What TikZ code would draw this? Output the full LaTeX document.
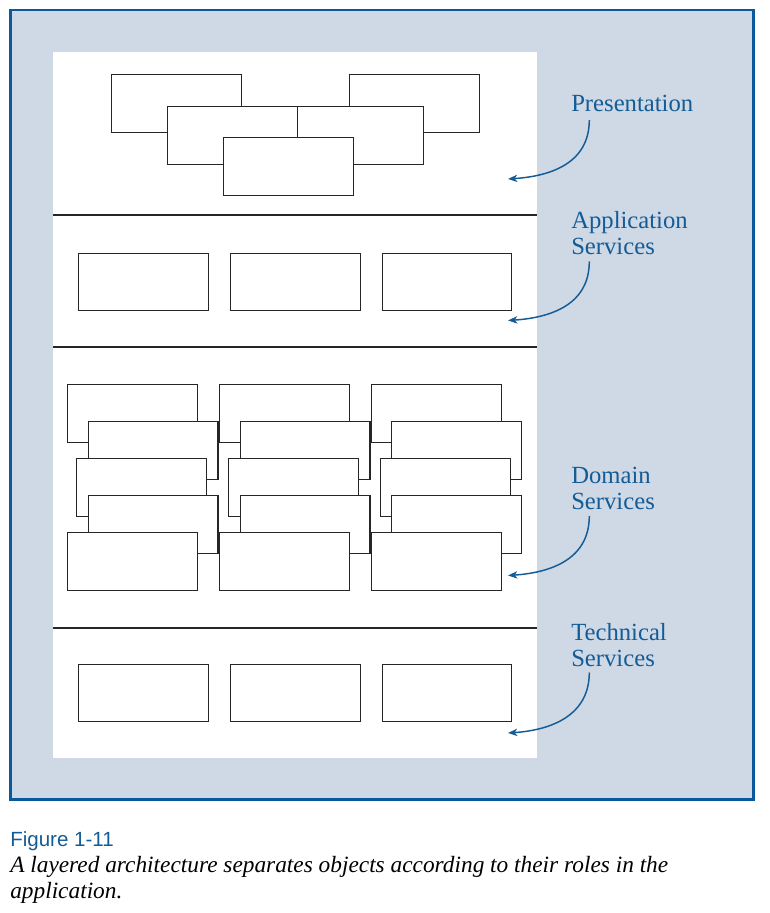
\documentclass[tikz,border=0pt]{standalone}
\usepackage{fontspec}
\setmainfont{Liberation Serif}
\newfontfamily\capsans{Liberation Sans}
\usetikzlibrary{arrows.meta,calc}
\definecolor{frameblue}{RGB}{10,90,155}
\definecolor{textblue}{RGB}{20,92,150}
\definecolor{panelbg}{RGB}{207,216,229}
\tikzset{
  objbox/.style={draw=black!85, line width=0.8pt, fill=white, minimum width=97.3pt, minimum height=43.2pt, inner sep=0pt, anchor=north west},
  sepline/.style={draw=black!85, line width=1.5pt},
  layerlabel/.style={text=textblue, font=\fontsize{18.5}{19.5}\selectfont, anchor=base west, align=left, inner sep=0pt},
  callout/.style={draw=textblue, line width=1.1pt, -{Stealth[length=7pt,width=5.5pt,inset=2pt]}},
}
\begin{document}
\begin{tikzpicture}[x=0.75pt,y=-0.75pt]
\useasboundingbox (0,0) rectangle (770,913);
% frame and panel
\draw[draw=frameblue, line width=1.6pt, fill=panelbg] (10.5,10) rectangle (753.5,799.5);
\fill[white] (53,52) rectangle (537,758);
% separators
\draw[sepline] (53,215) -- (537,215);
\draw[sepline] (53,347) -- (537,347);
\draw[sepline] (53,628) -- (537,628);
% presentation layer
\node[objbox] (pA) at (111,74) {};
\node[objbox] (pD) at (349,74) {};
\node[objbox] (pE) at (293,106) {};
\node[objbox] (pB) at (167,106) {};
\node[objbox] (pC) at (223,137) {};
% application services
\node[objbox] (a1) at (78,252.5) {};
\node[objbox] (a2) at (230,252.5) {};
\node[objbox] (a3) at (381.5,252.5) {};
% domain services
\foreach \c/\dx in {1/0,2/152,3/303.5}{
  \node[objbox] (d\c r1) at (67.3+\dx,384) {};
  \node[objbox] (d\c r2) at (87.7+\dx,421) {};
  \node[objbox] (d\c r3) at (76.3+\dx,458.3) {};
  \node[objbox] (d\c r4) at (87.7+\dx,495.3) {};
  \node[objbox] (d\c r5) at (67.3+\dx,532.3) {};
}
% technical services
\node[objbox] (t1) at (78,663.5) {};
\node[objbox] (t2) at (230,663.5) {};
\node[objbox] (t3) at (381.5,663.5) {};
% labels (base = baseline of last line)
\node[layerlabel] (lP) at (571,111.5) {Presentation};
\node[layerlabel] (lA) at (571,254.5) {Application\\Services};
\node[layerlabel] (lD) at (571,509) {Domain\\Services};
\node[layerlabel] (lT) at (571,666) {Technical\\Services};
% callout coordinates
\coordinate (sP) at (589.3,120);   \coordinate (eP) at (508,179);
\coordinate (sA) at (589.3,261.5); \coordinate (eA) at (508,320.5);
\coordinate (sD) at (589.3,516);   \coordinate (eD) at (508,575.5);
\coordinate (sT) at (589.3,672.5); \coordinate (eT) at (508,733);
\foreach \k in {P,A,D,T}{
  \draw[callout] (s\k) .. controls ($(s\k)+(0,42)$) and ($(e\k)+(45,-3)$) .. (e\k);
}
% caption
\node[anchor=base west, inner sep=0pt, text=textblue, font=\capsans\fontsize{15.4}{18}\selectfont] (cap1) at (10,846) {Figure 1-11};
\node[anchor=base west, inner sep=0pt, font=\itshape\fontsize{17.5}{19.5}\selectfont] (cap2) at (10,872) {A layered architecture separates objects according to their roles in the};
\node[anchor=base west, inner sep=0pt, font=\itshape\fontsize{17.5}{19.5}\selectfont] (cap3) at (10,898) {application.};
\end{tikzpicture}
\end{document}
